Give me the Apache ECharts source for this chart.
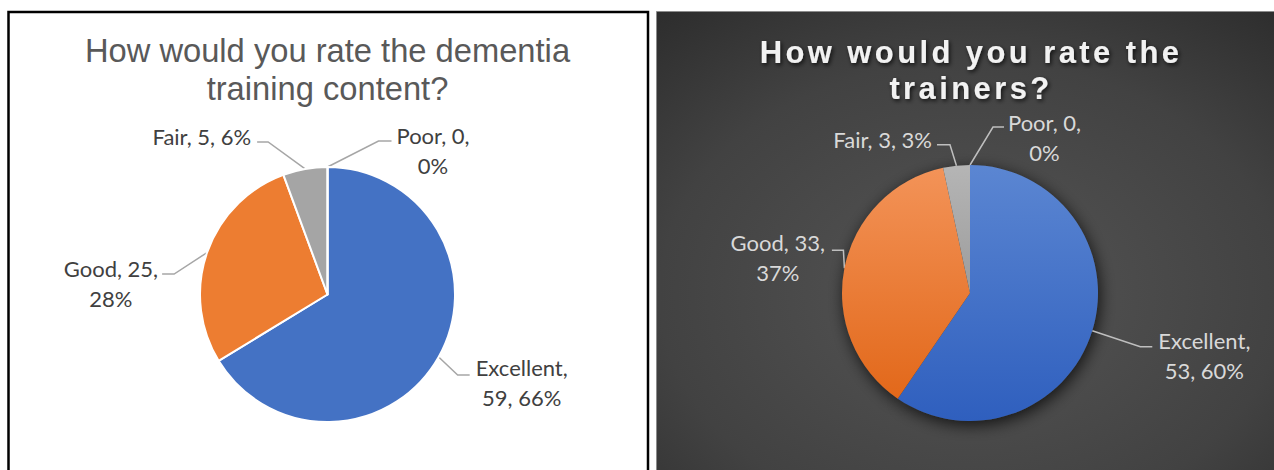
<!DOCTYPE html>
<html>
<head>
<meta charset="utf-8">
<script src="https://cdn.jsdelivr.net/npm/echarts@6/dist/echarts.min.js"></script>
<style>
html,body{margin:0;padding:0;background:#fff;}
#chart{width:1274px;height:470px;}
#chart svg text[style*="bold"]{letter-spacing:3.4px;}
</style>
</head>
<body>
<div id="chart"></div>
<script>
// ---- data ----
const categories = ['Excellent', 'Good', 'Fair', 'Poor'];
const contentValues = [59, 25, 5, 0];
const trainerValues = [53, 33, 3, 0];
const contentTitle = 'How would you rate the dementia\ntraining content?';
const trainerTitle = 'How would you rate the\ntrainers?';
// where each label wraps (Excel-like)
const contentLabelTemplates = ['{b},\n{c}, {d}%', '{b}, {c},\n{d}%', '{b}, {c}, {d}%', '{b}, {c},\n{d}%'];
const trainerLabelTemplates = ['{b},\n{c}, {d}%', '{b}, {c},\n{d}%', '{b}, {c}, {d}%', '{b}, {c},\n{d}%'];

// ---- styles ----
const contentColors = ['#4472C4', '#ED7D31', '#A5A5A5', '#FFC000'];
const trainerGradients = [
  ['#5B86D2', '#2F5FBE'],
  ['#F39358', '#E2681A'],
  ['#B5B5B5', '#9C9C9C'],
  ['#FFC000', '#E0A800']
];
// label placement relative to the library's slice-edge anchor point
const contentLabelPlacement = [
  {bx: 19, by: 18, stub: 12, gap: 6, vy: 8, align: 'left'},
  {bx: -33, by: 21.5, stub: 12, gap: 4, vy: 9.5, align: 'right'},
  {bx: -37, by: -27, stub: 11, gap: 6, vy: -5, align: 'right'},
  {bx: 51, by: -26, stub: 13, gap: 5, vy: 9.5, align: 'left'}
];
const trainerLabelPlacement = [
  {bx: 48, by: 16, stub: 12, gap: 6, vy: 9, align: 'left'},
  {bx: -1, by: -18, stub: 11.5, gap: 7, vy: 7.5, align: 'right'},
  {bx: -6.5, by: -21, stub: 13, gap: 5, vy: -5, align: 'right'},
  {bx: 23, by: -38, stub: 11, gap: 4, vy: 10, align: 'left'}
];

function makeFormatter(templates) {
  return function (p) {
    const t = templates[p.dataIndex]
      .replace('{b}', p.name)
      .replace('{c}', p.value)
      .replace('{d}', p.percent);
    return t.split('\n').map(function (s) { return '{t|' + s + '}'; }).join('\n');
  };
}
function makeLabelLayout(placement) {
  return function (params) {
    const pts = params.labelLinePoints;
    if (!pts || !pts.length) return {};
    const c = placement[params.dataIndex];
    const p0 = pts[0];
    const dir = c.align === 'left' ? 1 : -1;
    const bend = [p0[0] + c.bx, p0[1] + c.by];
    const end = [bend[0] + dir * c.stub, bend[1]];
    return {
      x: end[0] + dir * c.gap,
      y: end[1] + c.vy,
      align: c.align,
      verticalAlign: 'middle',
      labelLinePoints: [p0, bend, end]
    };
  };
}

const chart = echarts.init(document.getElementById('chart'), null, {renderer: 'svg'});
const labelFont = 'Lato';

chart.setOption({
  animation: false,
  graphic: [
    {type: 'rect', z: -10, silent: true,
     shape: {x: 8.5, y: 12, width: 639.5, height: 470},
     style: {fill: '#ffffff', stroke: '#000000', lineWidth: 2.5}},
    {type: 'rect', z: -10, silent: true,
     shape: {x: 656.5, y: 11.5, width: 630, height: 470},
     style: {
       fill: {type: 'radial', x: 0.5, y: 0.6, r: 0.9,
              colorStops: [{offset: 0, color: '#555555'}, {offset: 0.55, color: '#424242'}, {offset: 1, color: '#242424'}]},
       stroke: '#8c8c8c', lineWidth: 1}}
  ],
  title: [
    {text: contentTitle, left: 327.5, top: 32, padding: 0, textAlign: 'center', textVerticalAlign: 'top',
     textStyle: {fontFamily: 'Liberation Sans', fontSize: 32.7, fontWeight: 'normal', color: '#595959', lineHeight: 37.5}},
    {text: trainerTitle, left: 971, top: 34, padding: 0, textAlign: 'center', textVerticalAlign: 'top',
     textStyle: {fontFamily: 'Liberation Sans', fontSize: 31, fontWeight: 'bold', color: '#F2F2F2', lineHeight: 36,
                 textShadowColor: 'rgba(0,0,0,0.75)', textShadowBlur: 4, textShadowOffsetX: 1.5, textShadowOffsetY: 2}}
  ],
  series: [
    {
      type: 'pie', center: [327.5, 294.5], radius: 127.5, startAngle: 90, clockwise: true,
      percentPrecision: 0, avoidLabelOverlap: false, emphasis: {disabled: true},
      itemStyle: {borderColor: '#ffffff', borderWidth: 2},
      data: categories.map(function (n, i) {
        return {name: n, value: contentValues[i], itemStyle: {color: contentColors[i]}};
      }),
      label: {show: true, position: 'outside', formatter: makeFormatter(contentLabelTemplates),
              color: '#404040', fontFamily: labelFont, fontSize: 22, lineHeight: 30,
              rich: {t: {align: 'center', color: '#404040', fontFamily: labelFont, fontSize: 22, lineHeight: 30}}},
      labelLine: {show: true, length: 10, length2: 10, lineStyle: {color: '#A6A6A6', width: 1.5}},
      labelLayout: makeLabelLayout(contentLabelPlacement)
    },
    {
      type: 'pie', center: [970, 293], radius: 128, startAngle: 90, clockwise: true, silent: true, z: 1,
      emphasis: {disabled: true},
      data: categories.map(function (n, i) { return {name: n, value: trainerValues[i]}; }),
      itemStyle: {color: '#3a3a3a', shadowBlur: 16, shadowColor: 'rgba(0,0,0,0.75)', shadowOffsetX: 2, shadowOffsetY: 4},
      label: {show: false}, labelLine: {show: false}
    },
    {
      type: 'pie', center: [970, 293], radius: 128, startAngle: 90, clockwise: true, z: 2,
      percentPrecision: 0, avoidLabelOverlap: false, emphasis: {disabled: true},
      itemStyle: {borderWidth: 0},
      data: categories.map(function (n, i) {
        return {name: n, value: trainerValues[i], itemStyle: {color: {
          type: 'linear', x: 0, y: 0, x2: 0, y2: 1,
          colorStops: [{offset: 0, color: trainerGradients[i][0]}, {offset: 1, color: trainerGradients[i][1]}]}}};
      }),
      label: {show: true, position: 'outside', formatter: makeFormatter(trainerLabelTemplates),
              color: '#D9D9D9', fontFamily: labelFont, fontSize: 22, lineHeight: 30,
              rich: {t: {align: 'center', color: '#D9D9D9', fontFamily: labelFont, fontSize: 22, lineHeight: 30}}},
      labelLine: {show: true, length: 10, length2: 10, lineStyle: {color: '#BFBFBF', width: 1.5}},
      labelLayout: makeLabelLayout(trainerLabelPlacement)
    }
  ]
});
</script>
</body>
</html>
